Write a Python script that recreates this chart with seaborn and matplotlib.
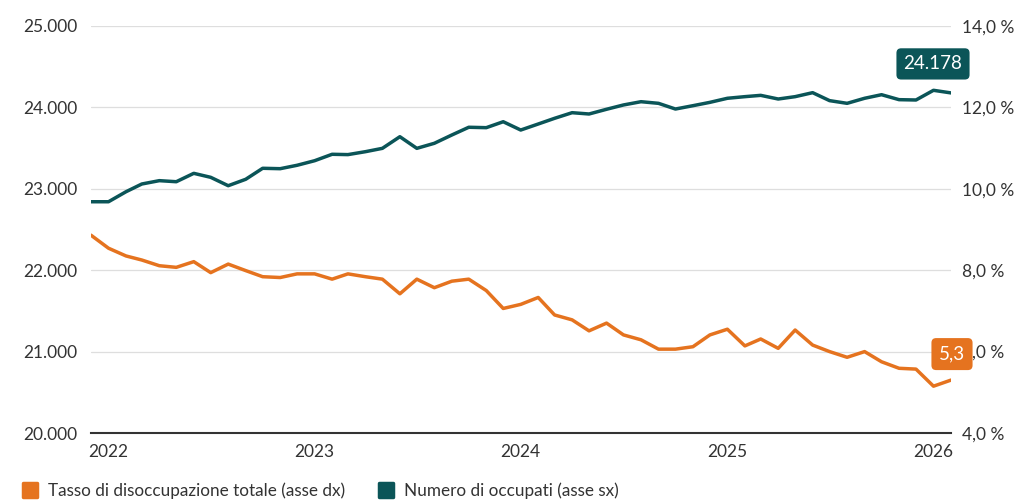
import numpy as np
import pandas as pd
import matplotlib
matplotlib.use("Agg")
import matplotlib.pyplot as plt
import matplotlib.dates as mdates
from matplotlib.lines import Line2D
from matplotlib.markers import MarkerStyle
from matplotlib.ticker import FuncFormatter, FixedLocator
import seaborn as sns

# ---- data ----
start_month = "2021-12-01"
occupati = [22841, 22841, 22964, 23059, 23100, 23087, 23190, 23141, 23038, 23117, 23252, 23247, 23289,
            23345, 23424, 23420, 23456, 23497, 23640, 23497, 23559, 23661, 23756, 23751, 23824,
            23722, 23796, 23866, 23935, 23919, 23977, 24030, 24070, 24050, 23980, 24021, 24062,
            24112, 24132, 24148, 24103, 24132, 24181, 24083, 24050, 24112, 24156, 24095, 24091,
            24210, 24178]
disoccupazione = [8.86, 8.54, 8.35, 8.25, 8.11, 8.07, 8.21, 7.94, 8.15, 7.99, 7.84, 7.82, 7.91,
                  7.91, 7.78, 7.91, 7.84, 7.78, 7.42, 7.78, 7.57, 7.73, 7.78, 7.50, 7.06,
                  7.16, 7.33, 6.90, 6.78, 6.51, 6.70, 6.41, 6.29, 6.06, 6.06, 6.12, 6.41,
                  6.55, 6.14, 6.31, 6.08, 6.53, 6.16, 6.00, 5.86, 6.00, 5.75, 5.59, 5.57,
                  5.15, 5.3]
left_ticks = [20000, 21000, 22000, 23000, 24000, 25000]
right_ticks = [4, 6, 8, 10, 12, 14]
year_ticks = ["2022", "2023", "2024", "2025", "2026"]
label_rate = "Tasso di disoccupazione totale (asse dx)"
label_occ = "Numero di occupati (asse sx)"

TEAL = "#0b5558"
ORANGE = "#e5731f"

dates = pd.date_range(start_month, periods=len(occupati), freq="MS")
df = pd.DataFrame({"data": dates, "occupati": occupati, "tasso": disoccupazione})

sns.set_theme(style="white")
plt.rcParams["font.family"] = ["Lato", "DejaVu Sans"]

fig = plt.figure(figsize=(10.19, 5.01), dpi=100)
ax = fig.add_axes([91 / 1019, 1 - 433 / 501, (951 - 91) / 1019, (433 - 26) / 501])
ax2 = ax.twinx()

sns.lineplot(data=df, x="data", y="occupati", ax=ax, color=TEAL, linewidth=2.5)
sns.lineplot(data=df, x="data", y="tasso", ax=ax2, color=ORANGE, linewidth=2.5)

ax.set_xlim(dates[0], dates[-1])
ax.set_ylim(left_ticks[0], left_ticks[-1])
ax2.set_ylim(right_ticks[0], right_ticks[-1])

ax.set_xlabel("")
ax.set_ylabel("")
ax2.set_ylabel("")

ax.yaxis.set_major_locator(FixedLocator(left_ticks))
ax.yaxis.set_major_formatter(FuncFormatter(lambda v, p: f"{int(v):,}".replace(",", ".")))
ax2.yaxis.set_major_locator(FixedLocator(right_ticks))
ax2.yaxis.set_major_formatter(FuncFormatter(lambda v, p: f"{v:.1f}".replace(".", ",") + " %"))

xt = [pd.Timestamp(f"{y}-01-01") for y in year_ticks]
ax.set_xticks(xt)
ax.set_xticklabels(year_ticks)

for a in (ax, ax2):
    for s in a.spines.values():
        s.set_visible(False)
ax.spines["bottom"].set_visible(True)
ax.spines["bottom"].set_color("#333333")
ax.spines["bottom"].set_linewidth(1.5)

ax.grid(axis="y", color="#dedede", linewidth=0.9)
ax.grid(axis="x", visible=False)
ax2.grid(False)
ax.set_axisbelow(True)

ax.tick_params(axis="y", length=0, pad=10, labelsize=12.5, colors="#333333")
ax2.tick_params(axis="y", length=0, pad=8, labelsize=12.5, colors="#333333")
ax.tick_params(axis="x", length=5, width=1.3, color="#333333", pad=3, labelsize=12.5, labelcolor="#333333")

# end labels
x_last = mdates.date2num(dates[-1])
last_occ = occupati[-1]
ax2.annotate(f"{last_occ:,}".replace(",", "."), xy=(x_last, last_occ), xycoords=ax.transData,
             xytext=(-18, 29), textcoords="offset pixels", ha="center", va="center",
             color="white", fontsize=13.5, annotation_clip=False, zorder=20,
             bbox=dict(boxstyle="round,pad=0.38,rounding_size=0.25", fc=TEAL, ec="none"))
last_rate = disoccupazione[-1]
ax2.annotate(f"{last_rate:.1f}".replace(".", ","), xy=(x_last, last_rate), xycoords=ax2.transData,
             xytext=(1, 26), textcoords="offset pixels", ha="center", va="center",
             color="white", fontsize=13.5, annotation_clip=False, zorder=20,
             bbox=dict(boxstyle="round,pad=0.4,rounding_size=0.25", fc=ORANGE, ec="none"))

# legend
ms = MarkerStyle("s", joinstyle="round")
handles = [
    Line2D([], [], linestyle="none", marker=ms, markersize=10.5, markeredgewidth=2.5,
           color=ORANGE, markeredgecolor=ORANGE),
    Line2D([], [], linestyle="none", marker=ms, markersize=10.5, markeredgewidth=2.5,
           color=TEAL, markeredgecolor=TEAL),
]
fig.legend(handles, [label_rate, label_occ], loc="center left",
           bbox_to_anchor=(21.5 / 1019, 1 - 491 / 501), ncol=2, frameon=False,
           fontsize=12.3, handlelength=1.0, handletextpad=0.56, columnspacing=1.9,
           borderpad=0, borderaxespad=0, labelcolor="#333333")

fig.savefig("out.png", dpi=100)
